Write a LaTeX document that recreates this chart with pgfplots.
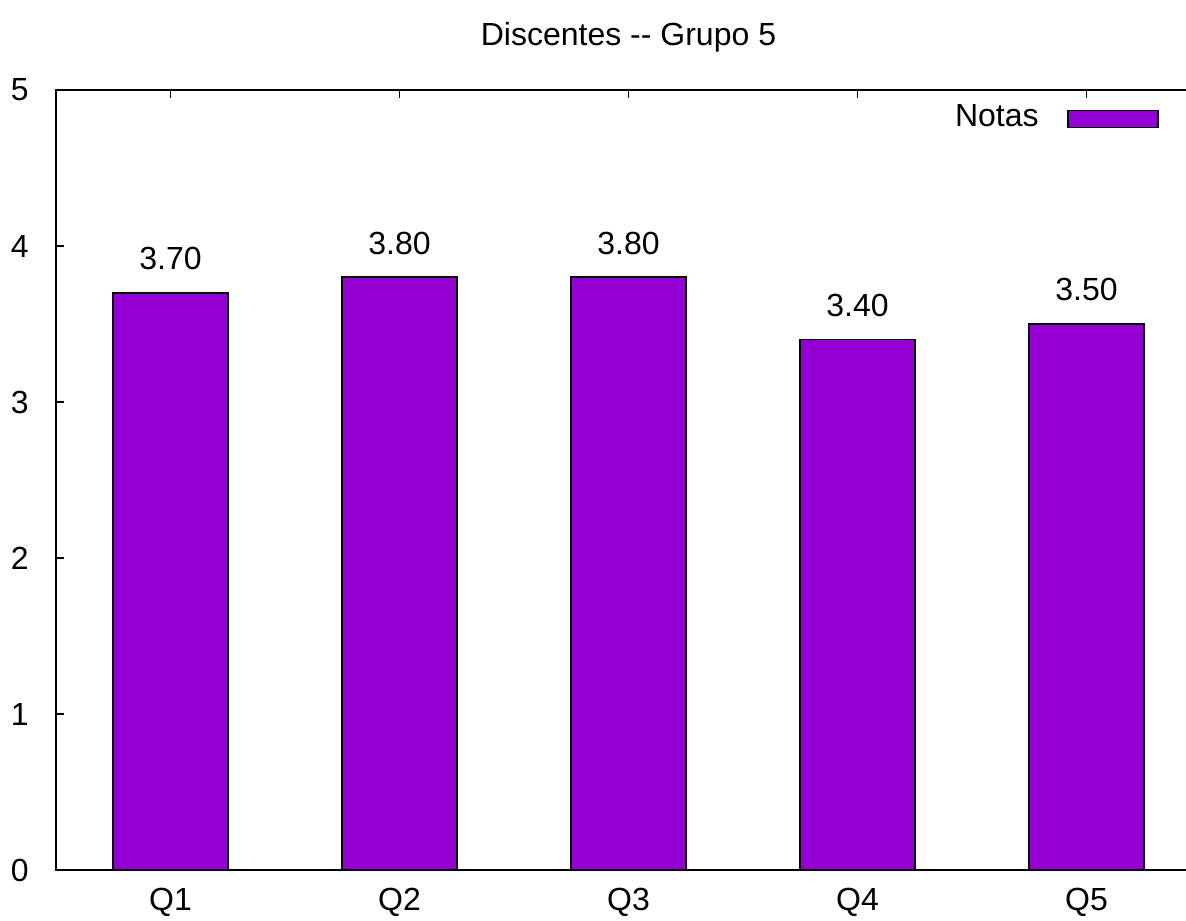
\documentclass[border=0pt]{standalone}
\usepackage{fontspec}
\setmainfont{Liberation Sans}
\usepackage{pgfplots}
\pgfplotsset{compat=1.18}
\definecolor{barviolet}{HTML}{9400D3}
\begin{document}
\begin{tikzpicture}[font=\fontsize{16}{19}\selectfont]
\path[use as bounding box] (-28pt,-25pt) rectangle (565pt,435pt);
\clip (-28pt,-25pt) rectangle (565pt,435pt);
\begin{axis}[
  at={(0,0)}, anchor=south west,
  scale only axis, width=572.5pt, height=390pt,
  xmin=-0.5, xmax=4.5, ymin=0, ymax=5,
  ybar, bar width=0.5,
  xtick={0,1,2,3,4}, xticklabels={Q1,Q2,Q3,Q4,Q5},
  ytick={0,1,2,3,4,5},
  xtick pos=right, xticklabel pos=left, ytick pos=left,
  major tick length=4pt, tick align=inside,
  axis line style={line width=0.75pt, black},
  tick style={line width=0.75pt, black},
  /pgf/number format/assume math mode=true,
  tick label style={font=\fontsize{16}{19}\selectfont, black},
  xticklabel style={inner sep=0pt, anchor=north, yshift=-9pt},
  yticklabel style={inner sep=0pt, anchor=east, xshift=-13.5pt},
  title={Discentes {-}{-} Grupo 5},
  title style={at={(0.5,1)}, anchor=base, yshift=16pt, inner sep=0pt, font=\fontsize{16}{19}\selectfont},
  legend plot pos=right,
  legend style={draw=none, fill=none, at={(0.9633,0.9654)}, anchor=east, inner sep=0pt,
    nodes={inner sep=0pt}, font=\fontsize{16}{19}\selectfont},
  nodes near coords={\pgfmathprintnumber[fixed, fixed zerofill, precision=2, assume math mode=true]{\pgfplotspointmeta}},
  every node near coord/.append style={anchor=base, yshift=11.5pt, inner sep=0pt, black, font=\fontsize{16}{19}\selectfont},
]
\addplot[fill=barviolet, draw=black, line width=0.9pt,
  legend image code/.code={\path[draw=none, fill=none] (0pt,0pt) -- (14.5pt,0pt);
    \draw[fill=barviolet, draw=black, line width=0.9pt] (14.5pt,-5.25pt) rectangle (59.5pt,3.25pt);}]
  coordinates {(0,3.7) (1,3.8) (2,3.8) (3,3.4) (4,3.5)};
\addlegendentry{Notas}
\end{axis}
\end{tikzpicture}
\end{document}
